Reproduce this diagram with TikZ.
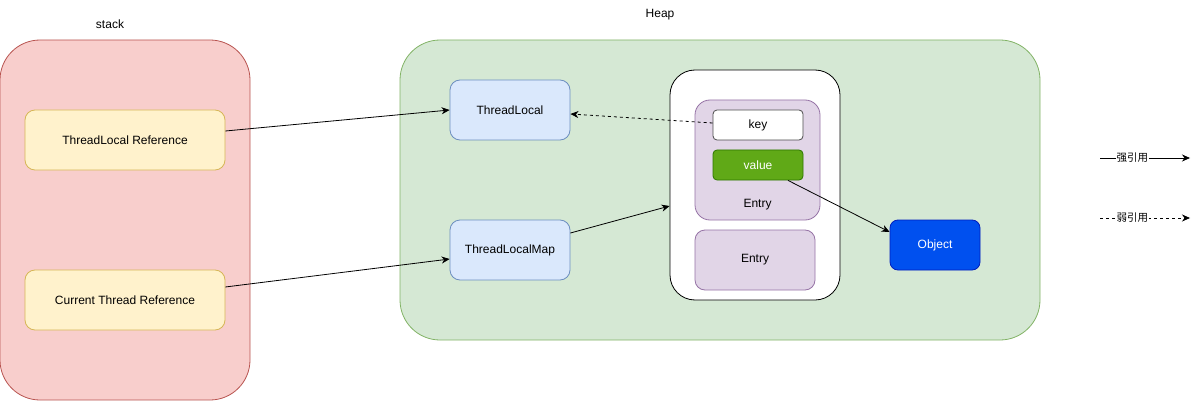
\documentclass[tikz,border=0pt]{standalone}
\usepackage{fontspec}
\setmainfont{Liberation Sans}
\newfontfamily\cjk{Noto Sans CJK SC}
\usetikzlibrary{arrows.meta}
\definecolor{stackfill}{HTML}{F8CECC}\definecolor{stackdraw}{HTML}{B85450}
\definecolor{heapfill}{HTML}{D5E8D4}\definecolor{heapdraw}{HTML}{82B366}
\definecolor{reffill}{HTML}{FFF2CC}\definecolor{refdraw}{HTML}{D6B656}
\definecolor{tlfill}{HTML}{DAE8FC}\definecolor{tldraw}{HTML}{6C8EBF}
\definecolor{entfill}{HTML}{E1D5E7}\definecolor{entdraw}{HTML}{9673A6}
\definecolor{valfill}{HTML}{60A917}\definecolor{valdraw}{HTML}{2D7600}
\definecolor{objfill}{HTML}{0050EF}\definecolor{objdraw}{HTML}{001DBC}
\tikzset{
  box/.style={draw, rounded corners=#1, inner sep=0pt, font=\fontsize{12}{14}\selectfont, line width=0.8pt},
  arr/.style={-{Stealth[length=8pt,width=7pt,inset=2.5pt]}, line width=0.8pt},
  wk/.style={arr, dash pattern=on 3pt off 3pt},
  lbl/.style={font=\fontsize{12}{14}\selectfont},
}
\begin{document}
\begin{tikzpicture}[x=1pt,y=-1pt]
\useasboundingbox (0,0) rectangle (1199,401);
% containers
\node[box=40pt, fill=stackfill, draw=stackdraw, minimum width=250pt, minimum height=360pt] (stack) at (125,220) {};
\node[lbl] (stacklbl) at (110,24) {stack};
\node[box=40pt, fill=heapfill, draw=heapdraw, minimum width=640pt, minimum height=300pt] (heap) at (720,190) {};
\node[lbl] (heaplbl) at (660,15) {Heap};
% stack items
\node[box=10pt, fill=reffill, draw=refdraw, minimum width=200pt, minimum height=60pt] (tlr) at (125,140) {ThreadLocal Reference};
\node[box=10pt, fill=reffill, draw=refdraw, minimum width=200pt, minimum height=60pt] (ctr) at (125,300) {Current Thread Reference};
% heap items
\node[box=10pt, fill=tlfill, draw=tldraw, minimum width=120pt, minimum height=60pt] (tl) at (510,110) {ThreadLocal};
\node[box=10pt, fill=tlfill, draw=tldraw, minimum width=120pt, minimum height=60pt] (tlm) at (510,250) {ThreadLocalMap};
\node[box=25pt, fill=white, draw=black, minimum width=170pt, minimum height=230pt] (map) at (755,185) {};
\node[box=15pt, fill=entfill, draw=entdraw, minimum width=125pt, minimum height=120pt] (e1) at (757.5,160) {};
\node[lbl] (e1lbl) at (757.5,205) {Entry};
\node[box=4pt, fill=white, draw=black!70, minimum width=90pt, minimum height=30pt] (key) at (758,125) {key};
\node[box=4pt, fill=valfill, draw=valdraw, text=white, minimum width=90pt, minimum height=30pt] (val) at (758,165) {value};
\node[box=10pt, fill=entfill, draw=entdraw, minimum width=120pt, minimum height=60pt] (e2) at (755,260) {Entry};
\node[box=8pt, fill=objfill, draw=objdraw, text=white, minimum width=90pt, minimum height=50pt] (obj) at (935,245) {Object};
% connectors
\draw[arr] ([yshift=9pt]tlr.east) -- (tl.west);
\draw[arr] ([yshift=13pt]ctr.east) -- ([yshift=-9pt]tlm.west);
\draw[arr] ([yshift=17pt]tlm.east) -- ([yshift=-21pt]map.west);
\draw[wk] ([yshift=2pt]key.west) -- ([yshift=-4pt]tl.east);
\draw[arr] ([xshift=30pt]val.south) -- ([yshift=13pt]obj.west);
% legend
\coordinate (s1) at (1100,158); \coordinate (s2) at (1190,158);
\coordinate (w1) at (1100,218); \coordinate (w2) at (1190,218);
\draw[arr] (s1) -- node[pos=0.36, fill=white, inner sep=1pt, font=\cjk\fontsize{10.5}{12}\selectfont] (slbl) {强引用} (s2);
\draw[wk] (w1) -- node[pos=0.36, fill=white, inner sep=1pt, font=\cjk\fontsize{10.5}{12}\selectfont] (wlbl) {弱引用} (w2);
\end{tikzpicture}
\end{document}
